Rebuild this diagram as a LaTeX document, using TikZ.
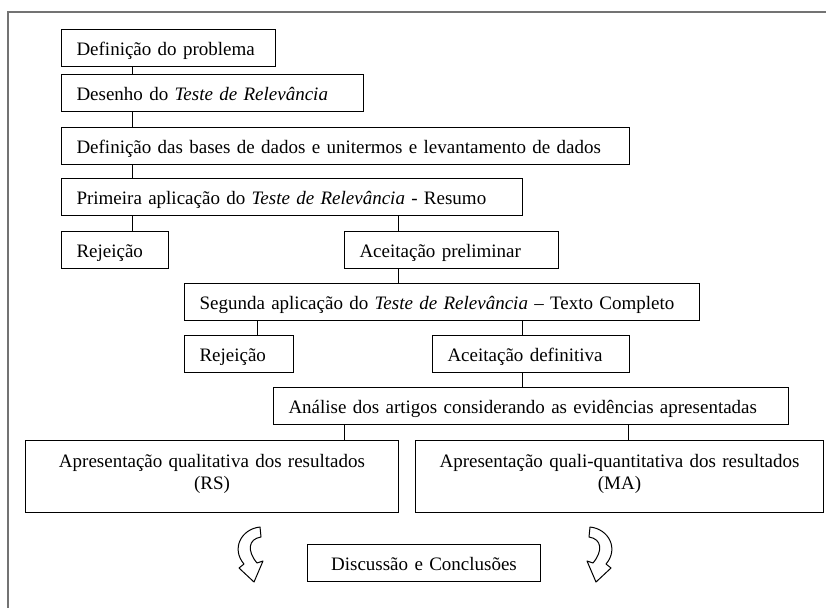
\documentclass[tikz,border=0pt]{standalone}
\usepackage{fontspec}
\setmainfont{Liberation Serif}
\usepackage{tikz}
\newcommand{\TR}{\textit{Teste de Relevância}}
\newcommand{\setacurva}{(260,527) .. controls (241,529) and (231,549) .. (244,564) -- (239,568) -- (254,582) -- (263,561) -- (257,563) .. controls (247,551) and (248,539) .. (261,537) -- cycle}
\tikzset{
  caixabase/.style={draw, line width=1pt, anchor=north west, inner xsep=15pt, inner ysep=5pt,
    text width=#1, font=\fontsize{19}{22}\selectfont},
  caixa/.style={caixabase=#1, align=left, text height=21pt, text depth=5.5pt,
    execute at begin node={\leavevmode\hbox\bgroup}, execute at end node={\egroup}},
  caixadupla/.style={caixabase=#1, align=center, text height=22pt, text depth=40pt},
  liga/.style={line width=1pt},
  seta/.style={line width=1pt, line join=round}
}

\begin{document}
\begin{tikzpicture}[x=1pt,y=-1pt]
\useasboundingbox (0,0) rectangle (826,608);
\draw[black!55, line width=2pt] (826,12) -- (8,12) -- (8,608);
\node[caixa=184pt] (prob) at (61,29) {Definição do problema};
\node[caixa=272pt] (des) at (61,74) {Desenho do \TR};
\node[caixa=538pt] (bases) at (61,127) {Definição das bases de dados e unitermos e levantamento de dados};
\node[caixa=431pt] (prim) at (61,178) {Primeira aplicação do \TR{} - Resumo};
\node[caixa=77pt] (rej1) at (61,231) {Rejeição};
\node[caixa=184pt] (acpre) at (344,231) {Aceitação preliminar};
\node[caixa=485pt] (seg) at (184,283) {Segunda aplicação do \TR{} – Texto Completo};
\node[caixa=79pt] (rej2) at (184,335) {Rejeição};
\node[caixa=167pt] (acdef) at (432,335) {Aceitação definitiva};
\node[caixa=485pt] (anal) at (273,387) {Análise dos artigos considerando as evidências apresentadas};
\node[caixadupla=343pt] (rsq) at (25,440) {Apresentação qualitativa dos resultados\\(RS)};
\node[caixadupla=378pt] (ma) at (415,440) {Apresentação quali-quantitativa dos resultados\\(MA)};
\node[caixabase=203pt, align=center, text height=21pt, text depth=5.5pt] (disc) at (307,544) {Discussão e Conclusões};
\draw[liga] ([xshift=71pt]prob.south west) -- ([xshift=71pt]des.north west);
\draw[liga] ([xshift=71pt]des.south west) -- ([xshift=71pt]bases.north west);
\draw[liga] ([xshift=71pt]bases.south west) -- ([xshift=71pt]prim.north west);
\draw[liga] ([xshift=71pt]prim.south west) -- ([xshift=71pt]rej1.north west);
\draw[liga] ([xshift=337pt]prim.south west) -- ([xshift=54pt]acpre.north west);
\draw[liga] ([xshift=54pt]acpre.south west) -- ([xshift=214pt]seg.north west);
\draw[liga] ([xshift=73pt]seg.south west) -- ([xshift=73pt]rej2.north west);
\draw[liga] ([xshift=338pt]seg.south west) -- ([xshift=90pt]acdef.north west);
\draw[liga] ([xshift=90pt]acdef.south west) -- ([xshift=249pt]anal.north west);
\draw[liga] ([xshift=71pt]anal.south west) -- ([xshift=319pt]rsq.north west);
\draw[liga] ([xshift=355pt]anal.south west) -- ([xshift=213pt]ma.north west);
\draw[seta] \setacurva;
\begin{scope}[xshift=850pt, xscale=-1]
\draw[seta] \setacurva;
\end{scope}
\end{tikzpicture}
\end{document}
